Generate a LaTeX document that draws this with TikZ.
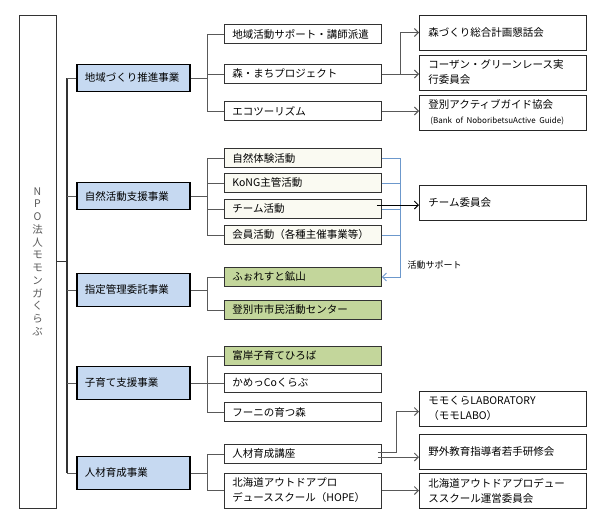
\documentclass[tikz,border=0pt]{standalone}
\usepackage{fontspec}
\setmainfont{Noto Sans CJK JP}
\usetikzlibrary{arrows.meta}
\definecolor{catblue}{HTML}{C6D9F1}
\definecolor{subgreen}{HTML}{C3D69B}
\definecolor{subcream}{HTML}{FAFAF2}
\definecolor{linkblue}{HTML}{6C98CC}
\begin{document}
\begin{tikzpicture}[x=1pt, y=-1pt,
	>={Straight Barb[length=4pt,width=8pt]},
	every node/.style={font=\fontsize{10.5}{15}\selectfont},
	root/.style={draw=black!80, line width=0.8pt, minimum width=37pt, minimum height=493pt, align=center, text=black!65, font=\fontsize{10.5}{12.75}\selectfont},
	cat/.style={draw, line width=1.6pt, fill=catblue, minimum width=113pt, minimum height=27pt, text width=97pt, inner xsep=8pt, align=left, anchor=west},
	sub/.style={draw=black!80, line width=0.8pt, fill=white, minimum height=19pt, text width=141pt, inner xsep=8pt, inner ysep=1pt, align=left, anchor=west},
	subc/.style={sub, fill=subcream},
	subg/.style={sub, fill=subgreen},
	extbox/.style={draw=black!85, line width=0.8pt, minimum height=35pt, text width=149pt, inner xsep=9pt, inner ysep=1pt, align=left, anchor=west},
	link/.style={draw=black!65, line width=0.9pt},
	trunk/.style={draw=black!80, line width=1.4pt},
	blink/.style={draw=linkblue, line width=0.9pt}]
	\useasboundingbox (0,0) rectangle (600,528);

	\node[root] (npo) at (37.5,261.5) {N\\P\\O\\法\\人\\モ\\モ\\ン\\ガ\\く\\ら\\ぶ};

	\node[cat] (c1) at (76,78) {地域づくり推進事業};
	\node[cat] (c2) at (76,196) {自然活動支援事業};
	\node[cat, minimum height=33pt] (c3) at (76,290) {指定管理委託事業};
	\node[cat, minimum height=33pt] (c4) at (76,383) {子育て支援事業};
	\node[cat, minimum height=33pt] (c5) at (76,473) {人材育成事業};

	\node[sub] (s11) at (224,34) {地域活動サポート・講師派遣};
	\node[sub] (s12) at (224,74) {森・まちプロジェクト};
	\node[sub] (s13) at (224,111) {エコツーリズム};
	\node[subc] (s21) at (224,158) {自然体験活動};
	\node[subc] (s22) at (224,183) {KoNG主管活動};
	\node[subc] (s23) at (224,209) {チーム活動};
	\node[subc] (s24) at (224,235) {会員活動（各種主催事業等）};
	\node[subg] (s31) at (224,277) {ふぉれすと鉱山};
	\node[subg] (s32) at (224,310) {登別市市民活動センター};
	\node[subg] (s41) at (224,356) {富岸子育てひろば};
	\node[sub] (s42) at (224,383) {かめっCoくらぶ};
	\node[sub] (s43) at (224,412) {フーニの育つ森};
	\node[sub] (s51) at (224,454) {人材育成講座};
	\node[sub, minimum height=35pt] (s52) at (224,490.5) {北海道アウトドアプロ\\デューススクール（HOPE）};

	\node[extbox] (r1) at (419,32.5) {森づくり総合計画懇話会};
	\node[extbox] (r2) at (419,72.5) {コーザン・グリーンレース実\\行委員会};
	\node[extbox] (r3) at (419,112.5) {登別アクティブガイド協会\\\hspace*{2pt}{\fontsize{8}{10}\selectfont(Bank of NoboribetsuActive Guide)}};
	\node[extbox] (r4) at (419,202.5) {チーム委員会};
	\node[extbox] (r5) at (419,408.5) {モモくらLABORATORY\\（モモLABO）};
	\node[extbox] (r6) at (419,451.5) {野外教育指導者若手研修会};
	\node[extbox] (r7) at (419,490.5) {北海道アウトドアプロデュー\\ススクール運営委員会};

	\node[anchor=west, font=\fontsize{9}{11}\selectfont] (katsudo) at (404,265) {活動サポート};

	\coordinate (tk) at (67,0);
	\coordinate (br) at (207,0);
	\coordinate (bx) at (400,0);
	\coordinate (kx) at (396,0);

	% trunk from the root to the five business lines
	\draw[trunk] (npo.east) -- (npo.east -| tk);
	\draw[trunk] (c1.west -| tk) -- (c5.west -| tk);
	\foreach \i in {1,...,5}
		\draw[link] (c\i.west -| tk) -- (c\i.west);

	% branches to the activities
	\foreach \g/\a/\b in {1/1/3, 2/1/4, 3/1/2, 4/1/3, 5/1/2} {
		\draw[link] (c\g.east) -- (c\g.east -| br);
		\draw[link] (s\g\a.west -| br) -- (s\g\b.west -| br);
		\foreach \k in {\a,...,\b}
			\draw[link] (s\g\k.west -| br) -- (s\g\k.west);
	}

	% support bracket
	\draw[blink, ->] (s21.east) -- (s21.east -| bx) -- (bx |- s31.east) -- (s31.east);
	\foreach \k in {2,3,4}
		\draw[blink] (s2\k.east) -- (s2\k.east -| bx);

	% committees
	\draw[link, ->] (s12.east) -- (s12.east -| bx) |- (r1.west);
	\draw[link, ->] (s12.east -| bx) -- (s12.east -| r2.west);
	\draw[link, ->] (s13.east) -- (s13.east -| r3.west);
	\draw[draw=black, line width=0.9pt, ->] ([xshift=-5pt,yshift=4pt]s23.east) -- ([yshift=4pt]s23.east -| r4.west);
	\draw[link, ->] ([xshift=-4pt,yshift=2pt]s51.east) -- ([yshift=2pt]s51.east -| kx) |- ([yshift=-3pt]r5.west);
	\draw[link, ->] ([xshift=-4pt,yshift=-3pt]s51.east) -- ([yshift=-3pt]s51.east -| r6.west);
	\draw[link, ->] (s52.east) -- (s52.east -| r7.west);
\end{tikzpicture}
\end{document}
